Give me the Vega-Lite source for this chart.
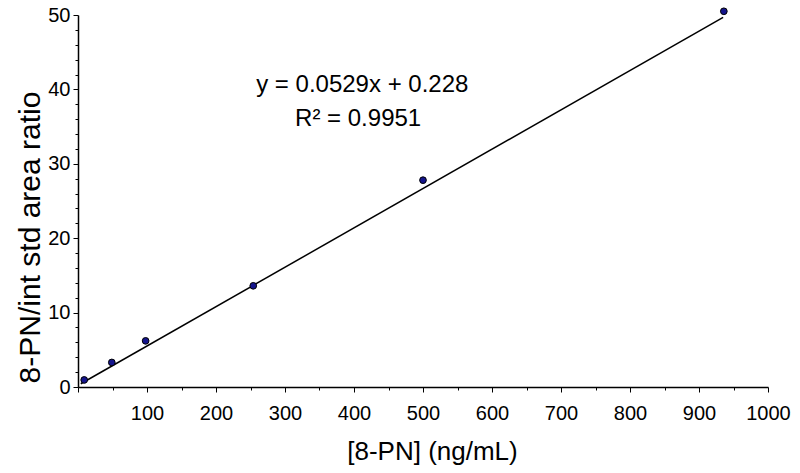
{
  "$schema": "https://vega.github.io/schema/vega-lite/v6.json",
  "width": 690,
  "height": 372,
  "autosize": {"type": "none"},
  "padding": {"left": 78, "top": 15, "right": 32, "bottom": 86},
  "background": "white",
  "config": {
    "view": {"stroke": null},
    "font": "Liberation Sans"
  },
  "datasets": {
    "pts": [
      {"conc": 9, "ratio": 0.95},
      {"conc": 49, "ratio": 3.3},
      {"conc": 98, "ratio": 6.2},
      {"conc": 254, "ratio": 13.6},
      {"conc": 500, "ratio": 27.8},
      {"conc": 936, "ratio": 50.5}
    ],
    "fit": [
      {"conc": 4, "ratio": 0.44},
      {"conc": 935, "ratio": 49.69}
    ],
    "eq": [
      {"conc": 412, "ratio": 39.65, "label": "y = 0.0529x + 0.228"},
      {"conc": 406, "ratio": 35.1, "label": "R² = 0.9951"}
    ]
  },
  "encoding": {
    "x": {
      "field": "conc", "type": "quantitative",
      "scale": {"domain": [0, 1000], "nice": false, "zero": false},
      "axis": {
        "title": "[8-PN] (ng/mL)",
        "titleFontSize": 26, "titleFontWeight": "normal", "titleColor": "black",
        "titleX": 354, "titleY": 72, "titleBaseline": "alphabetic", "titleAnchor": null,
        "values": [0,50,100,150,200,250,300,350,400,450,500,550,600,650,700,750,800,850,900,950,1000],
        "format": "d",
        "labelExpr": "datum.value % 100 === 0 && datum.value > 0 ? datum.label : ''",
        "labelFontSize": 20, "labelColor": "black", "labelPadding": 11,
        "grid": false, "domainColor": "black", "domainWidth": 1.5,
        "tickColor": "black",
        "tickSize": {"condition": {"test": "datum.value % 100 === 0", "value": 5}, "value": 3},
        "labelFlush": false, "labelOverlap": false, "labelBound": false
      }
    },
    "y": {
      "field": "ratio", "type": "quantitative",
      "scale": {"domain": [0, 50], "nice": false},
      "axis": {
        "title": "8-PN/int std area ratio",
        "titleFontSize": 30, "titleFontWeight": "normal", "titleColor": "black",
        "titleX": -48, "titleY": 222, "titleAngle": -90, "titleBaseline": "middle", "titleAnchor": null,
        "values": [0,2,4,6,8,10,12,14,16,18,20,22,24,26,28,30,32,34,36,38,40,42,44,46,48,50],
        "format": "d",
        "labelExpr": "datum.value % 10 === 0 ? datum.label : ''",
        "labelFontSize": 20, "labelColor": "black", "labelPadding": 3,
        "grid": false, "domainColor": "black", "domainWidth": 1.5,
        "tickColor": "black",
        "tickSize": {"condition": {"test": "datum.value % 10 === 0", "value": 5}, "value": 3},
        "labelFlush": false, "labelOverlap": false, "labelBound": false
      }
    }
  },
  "layer": [
    {
      "data": {"name": "fit"},
      "mark": {"type": "line", "color": "black", "strokeWidth": 1.5, "clip": false}
    },
    {
      "data": {"name": "pts"},
      "mark": {"type": "point", "filled": true, "fill": "#14148c", "stroke": "black", "strokeWidth": 1, "size": 45, "opacity": 1, "clip": false}
    },
    {
      "data": {"name": "eq"},
      "mark": {"type": "text", "fontSize": 24, "color": "black", "align": "center", "baseline": "alphabetic"},
      "encoding": {
        "text": {"field": "label"}
      }
    }
  ]
}
